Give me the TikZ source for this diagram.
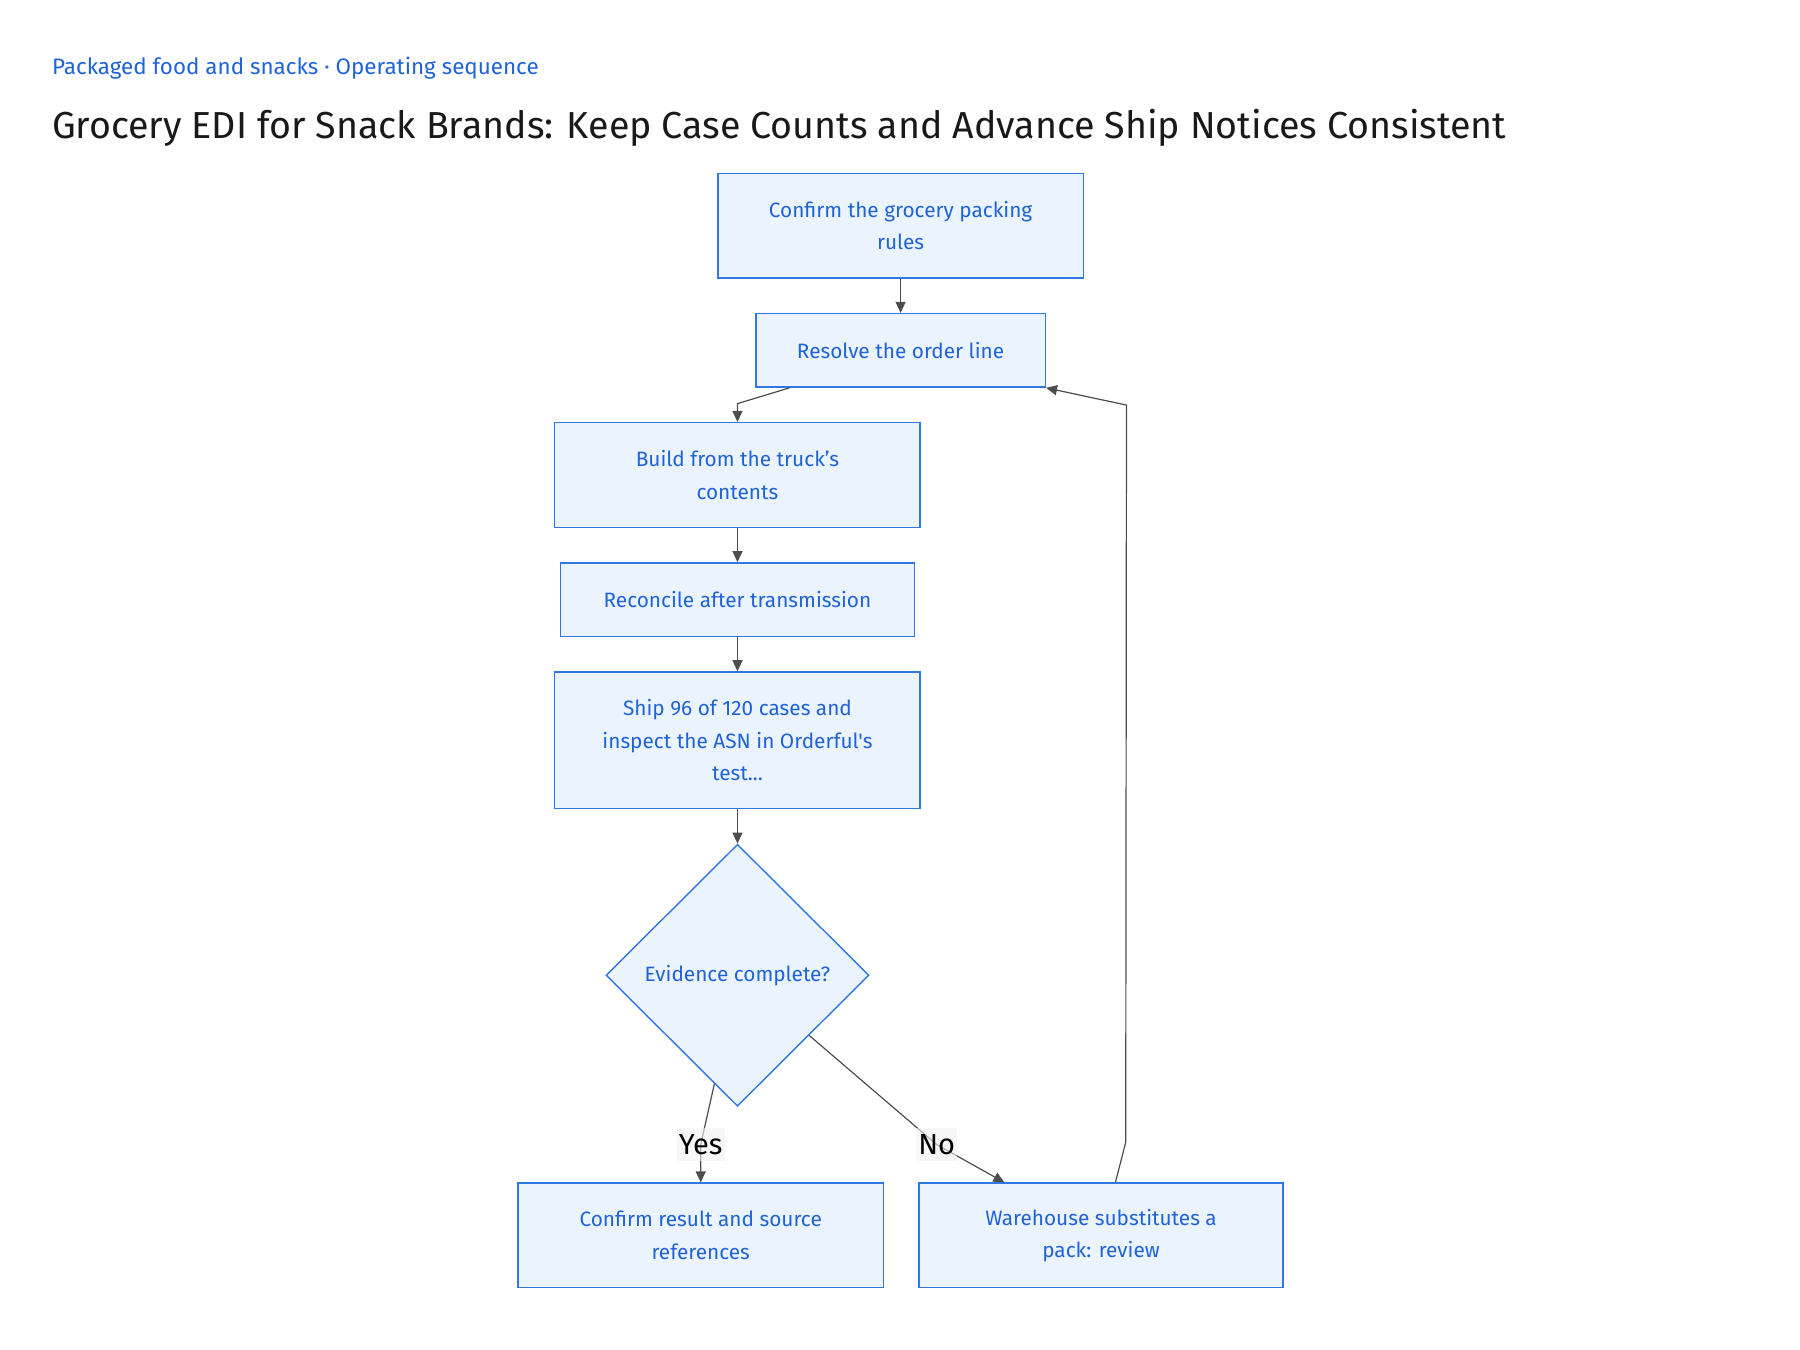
\documentclass[tikz,border=0pt]{standalone}
\usepackage{fontspec}
\setmainfont{Fira Sans}[Ligatures=TeXOff]
\usetikzlibrary{shapes.geometric,arrows.meta,calc}

\definecolor{stepblue}{HTML}{1F63D9}
\definecolor{stepedge}{HTML}{3177E3}
\definecolor{stepfill}{HTML}{EBF3FE}
\definecolor{flowgray}{HTML}{4D4D4D}

\begin{document}
\begin{tikzpicture}[x=0.5744pt,y=-0.5744pt,
        stepbox/.style={rectangle,draw=stepedge,fill=stepfill,line width=0.7pt,
            text=stepblue,align=center,inner sep=0pt,
            font=\fontsize{10.4pt}{16.2pt}\selectfont},
        choice/.style={diamond,draw=stepedge,fill=stepfill,line width=0.7pt,
            text=stepblue,align=center,inner sep=0pt,
            minimum width=131.5pt,minimum height=131pt,
            font=\fontsize{10.4pt}{16.2pt}\selectfont},
        flow/.style={draw=flowgray,line width=0.6pt,-{Triangle[length=5.5pt,width=5pt]}},
        elabel/.style={fill=black!5,fill opacity=0.6,text opacity=1,text=black,
            inner xsep=1pt,inner ysep=3pt,font=\fontsize{14.5pt}{16pt}\selectfont}]
                \useasboundingbox (0,0) rectangle (1567,1175);

                \node (kicker) at (45,59) [anchor=west,inner sep=0pt,text=stepblue,
                    font=\fontsize{11.2pt}{13pt}\selectfont] {Packaged food and snacks · Operating sequence};
                \node (title) at (45,111) [anchor=west,inner sep=0pt,text=black!90,
                    font=\fontsize{18.8pt}{22pt}\selectfont] {Grocery EDI for Snack Brands: Keep Case Counts and Advance Ship Notices Consistent};

                \node (rules) at (784,196.5) [stepbox,minimum width=182.7pt,minimum height=52.3pt] {Confirm the grocery packing\\rules};
                \node (resolve) at (784,305) [stepbox,minimum width=144.8pt,minimum height=36.8pt] {Resolve the order line};
                \node (build) at (642,413.5) [stepbox,minimum width=182.7pt,minimum height=52.3pt] {Build from the truck’s\\contents};
                \node (reconcile) at (642,522) [stepbox,minimum width=176.9pt,minimum height=36.8pt] {Reconcile after transmission};
                \node (ship) at (642,644.5) [stepbox,minimum width=182.7pt,minimum height=68.4pt] {Ship 96 of 120 cases and\\inspect the ASN in Orderful's\\test...};
                \node (decide) at (642,849) [choice] {Evidence complete?};
                \node (confirm) at (610,1075.5) [stepbox,minimum width=182.7pt,minimum height=52.3pt] {Confirm result and source\\references};
                \node (review) at (958.5,1075.5) [stepbox,minimum width=182.1pt,minimum height=52.3pt] {Warehouse substitutes a\\pack: review};

                % main sequence
                \draw[flow] (rules) -- (resolve);
                \draw[flow] ($(resolve.south west)+(30,0)$) -- ($(build.north)+(0,-16)$) -- (build.north);
                \draw[flow] (build) -- (reconcile);
                \draw[flow] (reconcile) -- (ship);
                \draw[flow] (ship) -- (decide);

                % branches
                \draw[flow] (decide.-102) -- ($(confirm.north)+(0,-33)$) node[elabel] {Yes} -- (confirm.north);
                \draw[flow] (decide.-40) -- ($(review.north west)+(16,-33)$) node[elabel] {No} -- ($(review.north west)+(75,0)$);
                \draw[flow] ($(review.north)+(12.5,0)$) -- ++(9,-35) -- ($(resolve.south east)+(70,15)$) -- (resolve.south east);
            \end{tikzpicture}
\end{document}
